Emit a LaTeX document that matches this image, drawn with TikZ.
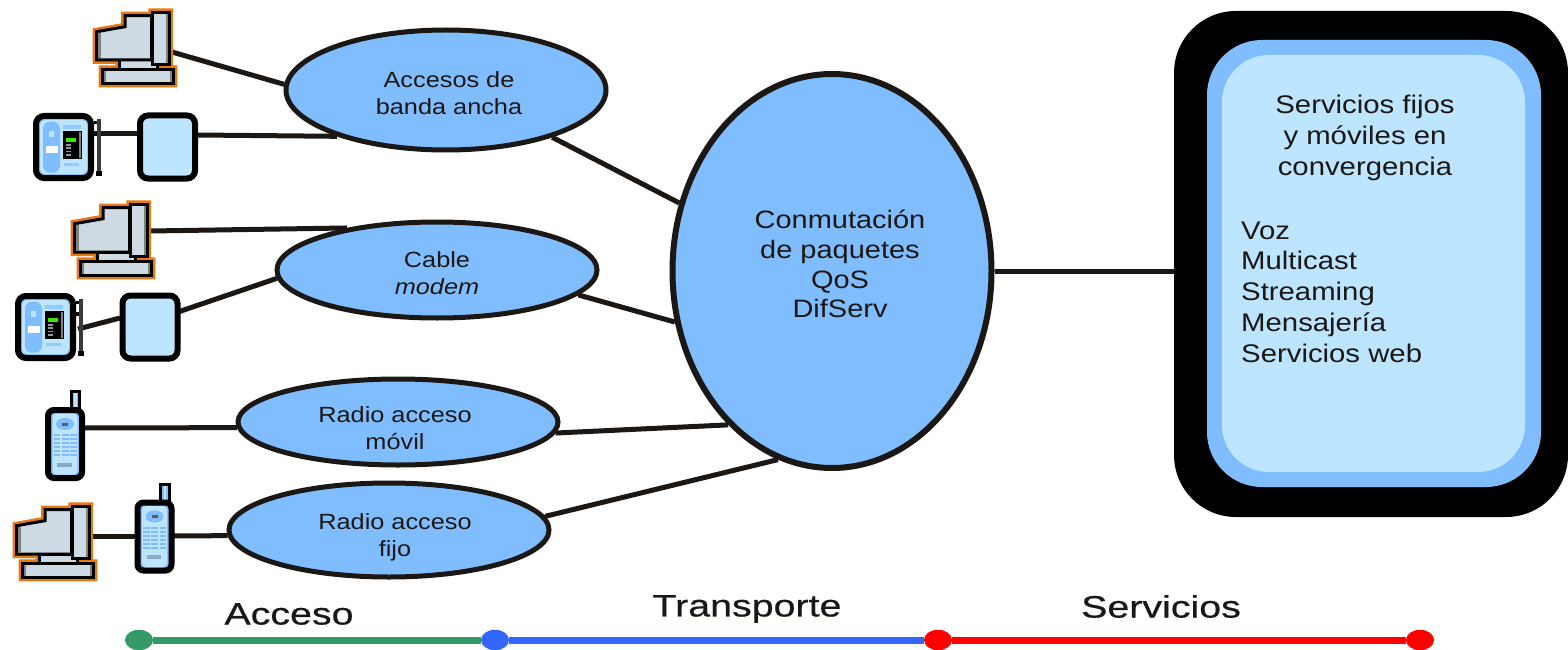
\documentclass[tikz,border=0pt]{standalone}
\usepackage{fontspec}
\setmainfont[FakeStretch=1.15]{Liberation Sans}
\newfontfamily\widefont[FakeStretch=1.27,FakeBold=0.6]{Liberation Sans}
\usetikzlibrary{shapes.geometric,backgrounds}
\definecolor{midblue}{HTML}{80BDFF}
\definecolor{lightblue}{HTML}{BDE5FF}
\definecolor{inkline}{HTML}{1A1714}
\definecolor{pcgrey}{HTML}{CDDAE3}
\definecolor{pcorange}{HTML}{E8780F}
\definecolor{gsegment}{HTML}{339966}
\definecolor{bsegment}{HTML}{3366FF}
\definecolor{rsegment}{HTML}{FF0000}
\tikzset{
  net/.style={ellipse,draw=inkline,fill=midblue,line width=5pt,inner sep=0pt},
  smalltext/.style={font=\fontsize{22}{27}\selectfont,text=inkline,align=center,inner sep=0pt},
  bigtext/.style={font=\fontsize{25.5}{30.7}\selectfont,text=inkline,inner sep=0pt},
  axistext/.style={font=\widefont\fontsize{31}{31}\selectfont,text=inkline,inner sep=0pt},
  link/.style={draw=inkline,line width=5pt},
  devbox/.style={draw=black,fill=midblue,line width=6pt,rounded corners=8pt,inner sep=0pt,minimum width=55pt,minimum height=63pt},
  dot/.style={ellipse,inner sep=0pt,minimum width=28pt,minimum height=20.5pt},
  seg/.style={line width=7pt},
  pics/computer/.style={code={
    \def\mon{(3.7,22.7)--(32,17.7)--(32,6.7)--(58.7,6.7)--(58.7,51)--(3.7,51)--cycle}
    \def\tow{(59.3,3.3) rectangle (76,55.3)}
    \def\nec{(26.3,51) rectangle (64.3,60.3)}
    \def\bas{(9.7,60.3) rectangle (80.3,74.3)}
    \draw[pcorange,line width=8pt,line join=miter,fill=pcorange] \mon \tow \nec \bas;
    \draw[black,line width=3pt,fill=pcgrey] \nec;
    \draw[black,line width=3pt,fill=pcgrey] \mon;
    \draw[black,line width=3pt,fill=pcgrey] \tow;
    \draw[black,line width=3pt,fill=pcgrey] \bas;
    \fill[gray] (5.2,24) rectangle (7.5,49.5);
    \fill[gray] (72.5,5) rectangle (74.5,54);
    \fill[gray] (11.2,62) rectangle (13,72.8);
    \fill[gray] (76.5,62) rectangle (78.8,72.8);
  }},
  pics/modem/.style={code={
    \fill[black] (61,8) rectangle (66,11);
    \fill[black] (61,19) rectangle (66,23);
    \fill[inkline!85] (64,6) rectangle (67.5,63);
    \fill[black] (62.5,58) rectangle (68.5,63);
    \draw[black,fill=midblue,line width=6pt,rounded corners=8pt] (3,3) rectangle (58,65);
    \fill[lightblue,rounded corners=5pt] (7,7) rectangle (54,61);
    \fill[midblue,rounded corners=7pt] (10,8.7) rectangle (27,59.7);
    \fill[lightblue] (16,18) rectangle (20.5,24);
    \fill[white] (12.7,33) rectangle (25,39.7);
    \fill[black] (30,18) rectangle (48.7,46.3);
    \fill[green!60!lime!90!black] (32.7,25.3) rectangle (43.3,29.3);
    \fill[pcgrey!70!black] (32.7,30.5) rectangle (38,33);
    \fill[pcgrey!70!black] (32.7,34) rectangle (38,36);
    \fill[pcgrey!70!black] (32.7,37.5) rectangle (38,39);
    \fill[pcgrey!70!black] (32.7,41) rectangle (38,43);
    \fill[gray] (46,19) rectangle (48,45);
    \fill[midblue!70!lightblue] (30,12) rectangle (48,16);
    \fill[midblue!70!lightblue] (31,49.7) rectangle (46,52.7);
  }},
  pics/phone/.style={code={
    \draw[black,fill=midblue,line width=3pt] (26,-15.5) rectangle (34.5,5);
    \fill[lightblue] (29,-14) rectangle (31.5,3);
    \draw[black,fill=midblue,line width=6pt,rounded corners=6pt] (3,3) rectangle (37,71);
    \fill[lightblue,rounded corners=4pt] (7.5,6.5) rectangle (32.5,67.5);
    \fill[midblue] (20,17) ellipse [x radius=9pt,y radius=6pt];
    \fill[inkline!70] (17,15.5) rectangle (23,18.5);
    \foreach \kx in {8.5,16.7,25}{
      \foreach \ky in {27,31,35,39,43,47}{
        \fill[midblue] (\kx,\ky) rectangle ++(6.8,2.4);
      }
    }
    \fill[midblue!70!black!70] (12.3,55.5) rectangle (26.7,59.5);
  }}
}
\begin{document}
\begin{tikzpicture}[x=1pt,y=-1pt]
\useasboundingbox (0,0) rectangle (1568,650);

% right panel
\node[draw=none,fill=black,rounded corners=62pt,minimum width=394pt,minimum height=506pt,inner sep=0pt] (serv) at (1371,264) {};
\node[fill=midblue,rounded corners=55pt,minimum width=334pt,minimum height=447pt,inner sep=0pt] (servmid) at (1374,263.5) {};
\node[fill=lightblue,rounded corners=47pt,minimum width=303pt,minimum height=417pt,inner sep=0pt] (servin) at (1373.5,263.5) {};
\node[bigtext,align=center] (servtitle) at (1365,138) {Servicios fijos\\y móviles en\\convergencia};
\node[bigtext,align=left,anchor=north west] (servlist) at (1241,221.5) {Voz\\Multicast\\Streaming\\Mensajería\\Servicios web};

% networks
\node[net,minimum width=320pt,minimum height=120pt] (E1) at (446,90) {};
\node[net,minimum width=320pt,minimum height=96pt] (E2) at (437,270) {};
\node[net,minimum width=320pt,minimum height=86pt] (E3) at (398,422) {};
\node[net,minimum width=320pt,minimum height=94pt] (E4) at (389,530) {};
\node[net,line width=6pt,minimum width=319pt,minimum height=394pt] (core) at (832,271) {};

\node[smalltext] (t1) at (449,93) {Accesos de\\banda ancha};
\node[smalltext] (t2) at (437,273) {Cable\\\textit{modem}};
\node[smalltext] (t3) at (395,428.5) {Radio acceso\\móvil};
\node[smalltext] (t4) at (395,537) {Radio acceso\\fijo};
\node[font=\fontsize{25.2}{29.7}\selectfont,text=inkline,align=center,inner sep=0pt] (t5) at (840,264) {Conmutación\\de paquetes\\QoS\\DifServ};

% devices
\coordinate (pc1) at (93,9);
\coordinate (pc2) at (71,201);
\coordinate (pc3) at (13,503);
\pic at (pc1) {computer};
\pic at (pc2) {computer};
\pic at (pc3) {computer};
\coordinate (mo1) at (33,113);
\coordinate (mo2) at (15,293);
\pic at (mo1) {modem};
\pic at (mo2) {modem};
\node[devbox,fill=lightblue] (box1) at (167.5,147) {};
\node[devbox,fill=lightblue] (box2) at (150,327) {};
\coordinate (ph1) at (45,407);
\coordinate (ph2) at (134.5,499.5);
\pic at (ph1) {phone};
\pic at (ph2) {phone};

% connector ends on the devices
\coordinate (pc1port) at (172,52);
\coordinate (pc2port) at (150,231);
\coordinate (pc3port) at (90,536);
\coordinate (mo1port) at (94,134);
\coordinate (mo2port) at (78,329);
\coordinate (ph1port) at (84,428);
\coordinate (ph2left) at (135,536);
\coordinate (ph2right) at (173,536);
\coordinate (box1left) at (137,134);
\coordinate (box1right) at (197,135);
\coordinate (box2left) at (120,318);
\coordinate (box2right) at (178,312);

\begin{scope}[on background layer]
  \draw[link] (pc1port) -- (E1.178);
  \draw[link] (box1right) -- (E1.203);
  \draw[link] (mo1port) -- (box1left);
  \draw[link] (E1.336.7) -- (core.156.4);
  \draw[link] (pc2port) -- (E2.155.7);
  \draw[link] (box2right) -- (E2.183.6);
  \draw[link] (mo2port) -- (box2left);
  \draw[link] (E2.350.6) -- (core.198.7);
  \draw[link] (ph1port) -- (E3.182);
  \draw[link] (E3.356.4) -- (core.236.5);
  \draw[link] (pc3port) -- (ph2left);
  \draw[link] (ph2right) -- (E4.182);
  \draw[link] (E4.5.5) -- (core.254.3);
  \draw[link] (core.east) -- (core.east -| serv.west);
\end{scope}

% axis
\node[dot,fill=gsegment] (d1) at (139,640) {};
\node[dot,fill=bsegment] (d2) at (495,640) {};
\node[dot,fill=rsegment] (d3) at (938,640) {};
\node[dot,fill=rsegment] (d4) at (1420,640) {};
\begin{scope}[on background layer]
  \draw[seg,gsegment] (d1) -- (d2);
  \draw[seg,bsegment] (d2) -- (d3);
  \draw[seg,rsegment] (d3) -- (d4);
\end{scope}
\node[axistext] (a1) at (289,614) {Acceso};
\node[axistext] (a2) at (747,609) {Transporte};
\node[axistext] (a3) at (1161,606.5) {Servicios};
\end{tikzpicture}
\end{document}
